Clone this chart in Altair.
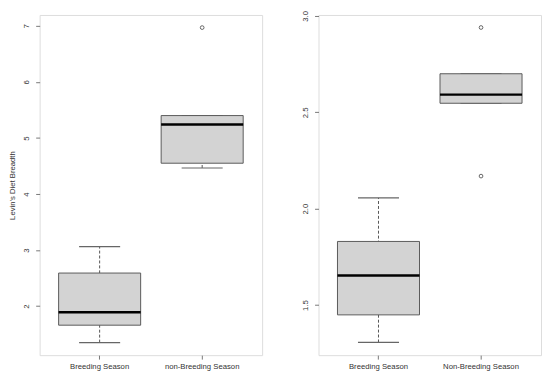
import altair as alt
import pandas as pd

# ---- data ----
left_groups = ["Breeding Season", "non-Breeding Season"]
left_lo = [1.35, 4.465]
left_q1 = [1.66, 4.55]
left_med = [1.89, 5.24]
left_q3 = [2.59, 5.40]
left_hi = [3.06, 5.40]
left_out_group = ["non-Breeding Season"]
left_out_val = [6.97]
left_ticks = [2, 3, 4, 5, 6, 7]

right_groups = ["Breeding Season", "Non-Breeding Season"]
right_lo = [1.306, 2.547]
right_q1 = [1.449, 2.547]
right_med = [1.653, 2.592]
right_q3 = [1.83, 2.70]
right_hi = [2.056, 2.70]
right_out_group = ["Non-Breeding Season", "Non-Breeding Season"]
right_out_val = [2.94, 2.169]
right_ticks = [1.5, 2.0, 2.5, 3.0]

FONT = "Liberation Sans"
TXT = "#333333"
FS = 7.8


def panel(groups, lo, q1, med, q3, hi, og, ov, domain, ticks, fmt, title):
    df = pd.DataFrame({"g": groups, "lo": lo, "q1": q1, "med": med, "q3": q3, "hi": hi})
    odf = pd.DataFrame({"g": og, "v": ov})
    x = alt.X(
        "g:N",
        sort=groups,
        scale=alt.Scale(domain=groups, paddingInner=0.2, paddingOuter=0.185),
        axis=alt.Axis(
            title=None, labelAngle=0, domain=False, tickSize=4, tickColor="#777777",
            labelColor=TXT, labelFontSize=FS, labelFont=FONT, labelPadding=4,
        ),
    )
    ysc = alt.Scale(domain=domain, nice=False, zero=False)
    yaxis = alt.Axis(
        values=ticks, format=fmt, labelAngle=-90, labelAlign="center", labelBaseline="bottom",
        domain=False, grid=False, tickSize=4, tickColor="#777777", labelColor=TXT,
        labelFontSize=FS, labelFont=FONT, labelPadding=5,
        title=title if title else None, titleFontSize=FS, titleFont=FONT,
        titleFontWeight="normal", titleColor=TXT, titlePadding=6,
    )
    base = alt.Chart(df)
    whisk = base.mark_rule(color="#555555", strokeDash=[3, 2], strokeWidth=1).encode(
        x=x, y=alt.Y("lo:Q", scale=ysc, axis=yaxis), y2="hi:Q"
    )
    cap_lo = base.mark_tick(orient="horizontal", size=41.5, thickness=1.2, color="#666666", opacity=1).encode(
        x=x, y=alt.Y("lo:Q", scale=ysc)
    )
    cap_hi = base.mark_tick(orient="horizontal", size=41.5, thickness=1.2, color="#666666", opacity=1).encode(
        x=x, y=alt.Y("hi:Q", scale=ysc)
    )
    box = base.mark_bar(fill="#d3d3d3", stroke="#5a5a5a", strokeWidth=1, opacity=1).encode(
        x=x, y=alt.Y("q1:Q", scale=ysc), y2="q3:Q"
    )
    median = base.mark_tick(orient="horizontal", size=83, thickness=2.4, color="#000000", opacity=1).encode(
        x=x, y=alt.Y("med:Q", scale=ysc)
    )
    outl = alt.Chart(odf).mark_point(shape="circle", size=14, filled=False, stroke="#555555",
                                     strokeWidth=0.9, opacity=1).encode(
        x=x, y=alt.Y("v:Q", scale=ysc)
    )
    return alt.layer(whisk, cap_lo, cap_hi, box, median, outl).properties(width=225, height=344)


left = panel(left_groups, left_lo, left_q1, left_med, left_q3, left_hi, left_out_group, left_out_val,
             [1.125, 7.195], left_ticks, "d", "Levin's Diet Breadth")
right = panel(right_groups, right_lo, right_q1, right_med, right_q3, right_hi, right_out_group, right_out_val,
              [1.24, 3.005], right_ticks, ".1f", None)

chart = alt.hconcat(left, right, spacing=38).properties(padding=0).configure_view(
    stroke="#8a8a8a", strokeWidth=1.4
).configure(background="white")

chart.save("out.html", embed_options={"renderer": "svg", "actions": False})
